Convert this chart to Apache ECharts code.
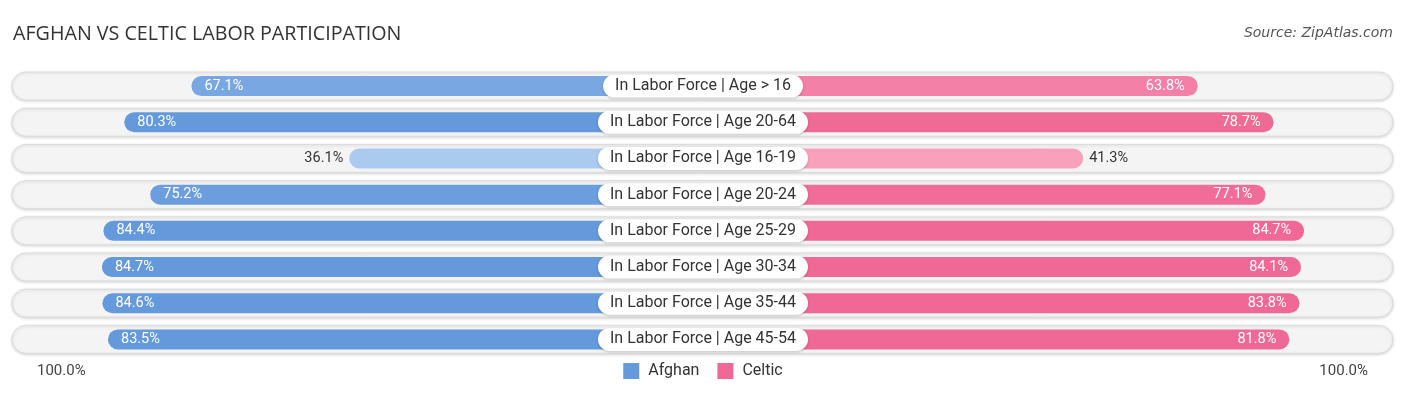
<!DOCTYPE html>
<html>
<head>
<meta charset="utf-8">
<script src="https://cdn.jsdelivr.net/npm/echarts@6/dist/echarts.min.js"></script>
<style>
html,body{margin:0;padding:0;background:#fff;}
#chart{width:1406px;height:395px;}
</style>
</head>
<body>
<div id="chart"></div>
<script>
const categories = [
  'In Labor Force | Age > 16',
  'In Labor Force | Age 20-64',
  'In Labor Force | Age 16-19',
  'In Labor Force | Age 20-24',
  'In Labor Force | Age 25-29',
  'In Labor Force | Age 30-34',
  'In Labor Force | Age 35-44',
  'In Labor Force | Age 45-54'
];
const afghan = [67.1, 80.3, 36.1, 75.2, 84.4, 84.7, 84.6, 83.5];
const celtic = [63.8, 78.7, 41.3, 77.1, 84.7, 84.1, 83.8, 81.8];
const seriesNames = ['Afghan', 'Celtic'];
const edgeLabel = '100.0%';

// layout constants
const OFFSET = 33.4;            // portion of each bar hidden under the centre label (axis units)
const AXIS_MAX = 100 + OFFSET;

function mix(c1, c2, t) {
  const a = [1,3,5].map(i => parseInt(c1.slice(i,i+2),16));
  const b = [1,3,5].map(i => parseInt(c2.slice(i,i+2),16));
  return 'rgb(' + a.map((x,i) => Math.round(x + (b[i]-x)*t)).join(',') + ')';
}
function shade(v, light, strong) {
  const t = Math.max(0, Math.min(1, (v - 36) / (80 - 36)));
  return mix(light, strong, t);
}
const BLUE_L = '#abcaef', BLUE_S = '#6499db';
const PINK_L = '#f8a9c2', PINK_S = '#f06895';
const INSIDE_MIN = 50;

function valueItems(arr, sign, light, strong, side) {
  return arr.map(v => {
    const inside = v >= INSIDE_MIN;
    return {
      value: sign * v,
      itemStyle: { color: shade(v, light, strong) },
      label: {
        position: inside ? (side === 'left' ? 'insideLeft' : 'insideRight') : side,
        distance: inside ? 13 : 6,
        color: inside ? '#ffffff' : '#333333'
      }
    };
  });
}
function baseItems(arr, sign, light, strong) {
  return arr.map(v => ({ value: sign * OFFSET, itemStyle: { color: shade(v, light, strong) } }));
}

const chart = echarts.init(document.getElementById('chart'), null, { renderer: 'canvas' });
const GRID_TOP = 68, GRID_BOTTOM = 37.5;

const option = {
  animation: false,
  backgroundColor: '#ffffff',
  title: [
    { text: 'AFGHAN VS CELTIC LABOR PARTICIPATION', left: 13, top: 24, padding: 0,
      textStyle: { fontFamily: 'Open Sans', fontSize: 19.7, fontWeight: 'normal', color: '#333333' } },
    { text: 'Source: ZipAtlas.com', right: 13, top: 26, padding: 0,
      textStyle: { fontFamily: 'DejaVu Sans', fontSize: 14, fontStyle: 'italic', fontWeight: 'normal', color: '#555555' } },
    { text: edgeLabel, left: 37, top: 364, padding: 0,
      textStyle: { fontFamily: 'Roboto', fontSize: 15, fontWeight: 'normal', color: '#444444' } },
    { text: edgeLabel, right: 38, top: 364, padding: 0,
      textStyle: { fontFamily: 'Roboto', fontSize: 15, fontWeight: 'normal', color: '#444444' } }
  ],
  legend: {
    data: seriesNames,
    left: 'center',
    top: 358,
    icon: 'rect',
    itemWidth: 16,
    itemHeight: 16,
    itemGap: 18,
    textStyle: { fontFamily: 'Roboto', fontSize: 16, color: '#333333', padding: [0, 0, 0, 4] },
    selectedMode: false
  },
  grid: [
    { left: 24, right: 24, top: GRID_TOP, bottom: GRID_BOTTOM },
    { left: 12, right: 13, top: GRID_TOP, bottom: GRID_BOTTOM }
  ],
  xAxis: [
    { type: 'value', gridIndex: 0, min: -AXIS_MAX, max: AXIS_MAX, show: false },
    { type: 'value', gridIndex: 1, min: 0, max: 1, show: false }
  ],
  yAxis: [
    { type: 'category', gridIndex: 0, data: categories, inverse: true, show: false },
    { type: 'category', gridIndex: 1, data: categories, inverse: true, show: false }
  ],
  series: [
    {
      type: 'bar', xAxisIndex: 1, yAxisIndex: 1, z: 1, silent: true,
      data: categories.map(() => 0),
      barWidth: 28,
      showBackground: true,
      backgroundStyle: {
        color: '#f4f4f4', borderColor: '#dcdcdc', borderWidth: 1, borderRadius: 14,
        shadowBlur: 3, shadowOffsetY: 1, shadowColor: 'rgba(0,0,0,0.15)'
      },
      itemStyle: { color: 'transparent' }
    },
    {
      name: 'Afghan base', type: 'bar', stack: 'all', barWidth: 20, z: 2, silent: true,
      data: baseItems(afghan, -1, BLUE_L, BLUE_S)
    },
    {
      name: 'Afghan', type: 'bar', stack: 'all', barWidth: 20, z: 2,
      itemStyle: { color: BLUE_S, borderRadius: [10, 0, 0, 10] },
      label: {
        show: true, fontFamily: 'Roboto', fontSize: 14.5,
        formatter: p => afghan[p.dataIndex].toFixed(1) + '%'
      },
      data: valueItems(afghan, -1, BLUE_L, BLUE_S, 'left')
    },
    {
      name: 'Celtic base', type: 'bar', stack: 'all', barWidth: 20, z: 2, silent: true,
      data: baseItems(celtic, 1, PINK_L, PINK_S)
    },
    {
      name: 'Celtic', type: 'bar', stack: 'all', barWidth: 20, z: 2,
      itemStyle: { color: PINK_S, borderRadius: [0, 10, 10, 0] },
      label: {
        show: true, fontFamily: 'Roboto', fontSize: 14.5,
        formatter: p => celtic[p.dataIndex].toFixed(1) + '%'
      },
      data: valueItems(celtic, 1, PINK_L, PINK_S, 'right')
    },
    {
      type: 'scatter', z: 5, silent: true,
      symbolSize: 0,
      itemStyle: { opacity: 1, color: 'rgba(0,0,0,0)' },
      data: categories.map(c => [0, c]),
      label: {
        show: true, position: 'inside',
        formatter: p => p.value[1],
        fontFamily: 'Roboto', fontSize: 16, color: '#333333',
        backgroundColor: '#ffffff', borderRadius: 12,
        padding: [4, 12, 3, 12],
        shadowBlur: 3, shadowOffsetY: 1, shadowColor: 'rgba(0,0,0,0.2)'
      }
    }
  ]
};
chart.setOption(option);
</script>
</body>
</html>
